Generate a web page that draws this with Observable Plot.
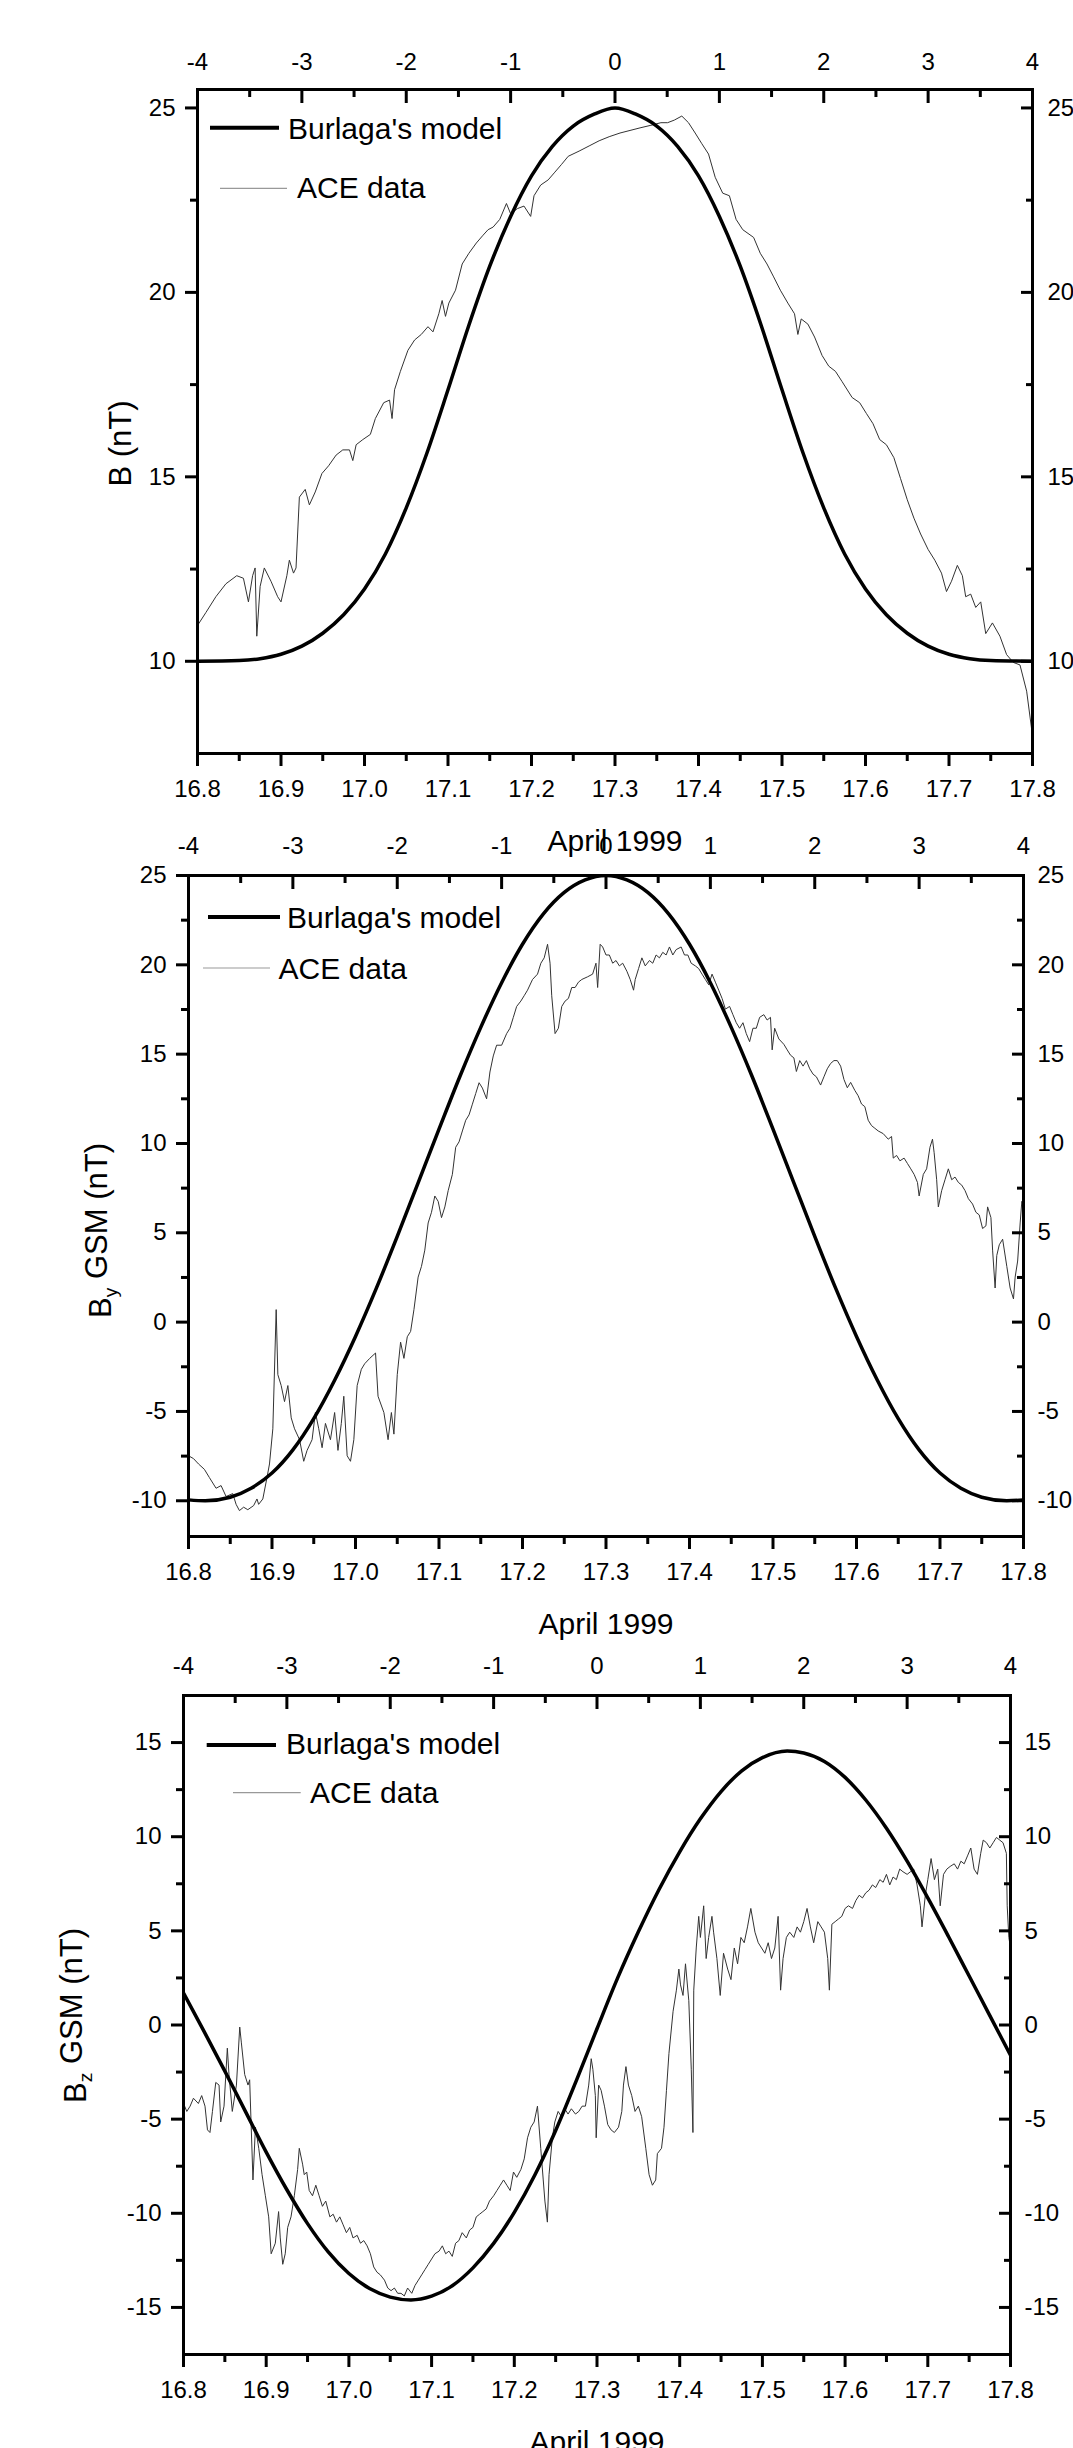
<!DOCTYPE html>
<html><head><meta charset="utf-8">
<script src="https://cdn.jsdelivr.net/npm/d3@7"></script>
<script src="https://cdn.jsdelivr.net/npm/@observablehq/plot@0.6"></script>
<style>
body{margin:0;background:#fff;}
#root{position:relative;width:1073px;height:2448px;overflow:hidden;background:#fff;}
</style></head><body><div id="root"></div>
<script>
// ---------- tick labels ----------
const xMajor = [16.8,16.9,17.0,17.1,17.2,17.3,17.4,17.5,17.6,17.7,17.8];
const xMinor = [16.85,16.95,17.05,17.15,17.25,17.35,17.45,17.55,17.65,17.75];
const topMajor = [-4,-3,-2,-1,0,1,2,3,4];
const topMinor = [-3.5,-2.5,-1.5,-0.5,0.5,1.5,2.5,3.5];
const legendLabels = ["Burlaga's model","ACE data"];
const xTitle = "April 1999";

// ---------- Burlaga's model ----------
const modelB = [[16.80,10.0],[16.85,10.02],[16.875,10.07],[16.90,10.19],[16.925,10.41],[16.95,10.76],[16.975,11.26],[17.00,11.96],[17.025,12.91],[17.05,14.16],[17.075,15.66],[17.10,17.36],[17.125,19.11],[17.15,20.71],[17.175,22.06],[17.20,23.16],[17.225,23.96],[17.25,24.51],[17.275,24.83],[17.30,25.0],[17.325,24.83],[17.35,24.51],[17.375,23.96],[17.40,23.16],[17.425,22.06],[17.45,20.71],[17.475,19.11],[17.50,17.36],[17.525,15.66],[17.55,14.16],[17.575,12.91],[17.60,11.96],[17.625,11.26],[17.65,10.76],[17.675,10.41],[17.70,10.19],[17.725,10.07],[17.75,10.02],[17.80,10.0]];
const modelBy = [[16.80,-9.95],[16.82,-10],[16.85,-9.8],[16.875,-9.3],[16.90,-8.45],[16.925,-7.15],[16.95,-5.4],[16.975,-3.25],[17.00,-0.8],[17.025,1.9],[17.05,4.8],[17.075,7.8],[17.10,10.8],[17.125,13.75],[17.15,16.5],[17.175,19.0],[17.20,21.15],[17.225,22.85],[17.25,24.05],[17.275,24.75],[17.30,25.0],[17.325,24.75],[17.35,24.05],[17.375,22.85],[17.40,21.15],[17.425,19.0],[17.45,16.5],[17.475,13.75],[17.50,10.8],[17.525,7.8],[17.55,4.8],[17.575,1.9],[17.60,-0.8],[17.625,-3.25],[17.65,-5.4],[17.675,-7.15],[17.70,-8.45],[17.725,-9.3],[17.75,-9.8],[17.78,-10],[17.80,-9.95]];
const modelBz = [[16.800,1.7],[16.825,-0.35],[16.850,-2.45],[16.875,-4.6],[16.900,-6.75],[16.925,-8.75],[16.950,-10.55],[16.975,-12.05],[17.000,-13.2],[17.025,-14.0],[17.050,-14.45],[17.075,-14.6],[17.100,-14.4],[17.125,-13.85],[17.150,-12.9],[17.175,-11.6],[17.200,-9.95],[17.225,-7.95],[17.250,-5.6],[17.275,-2.95],[17.300,-0.2],[17.325,2.5],[17.350,4.95],[17.375,7.2],[17.400,9.2],[17.425,10.95],[17.450,12.4],[17.475,13.5],[17.500,14.2],[17.530,14.55],[17.550,14.45],[17.575,14.0],[17.600,13.15],[17.625,11.95],[17.650,10.45],[17.675,8.7],[17.700,6.75],[17.725,4.7],[17.750,2.6],[17.775,0.5],[17.800,-1.6]];

// ---------- ACE data ----------
const aceB = [[16.800,10.97],[16.810,11.32],[16.822,11.75],[16.834,12.10],[16.847,12.32],[16.855,12.25],[16.861,11.61],[16.866,12.32],[16.869,12.53],[16.871,10.68],[16.875,12.03],[16.880,12.53],[16.888,12.17],[16.896,11.75],[16.900,11.61],[16.907,12.32],[16.910,12.74],[16.915,12.39],[16.918,12.53],[16.922,14.45],[16.929,14.66],[16.934,14.24],[16.941,14.59],[16.949,15.09],[16.957,15.30],[16.966,15.59],[16.974,15.73],[16.982,15.73],[16.986,15.44],[16.990,15.87],[16.998,16.01],[17.007,16.15],[17.013,16.58],[17.023,17.01],[17.030,17.08],[17.033,16.58],[17.036,17.36],[17.043,17.86],[17.052,18.43],[17.060,18.71],[17.068,18.86],[17.076,19.07],[17.082,18.93],[17.089,19.42],[17.093,19.78],[17.097,19.35],[17.101,19.71],[17.109,20.06],[17.117,20.77],[17.125,21.06],[17.134,21.34],[17.142,21.55],[17.148,21.70],[17.154,21.77],[17.162,21.98],[17.170,22.41],[17.175,22.13],[17.183,22.27],[17.191,22.34],[17.199,22.06],[17.203,22.62],[17.211,22.91],[17.220,23.05],[17.228,23.26],[17.236,23.47],[17.244,23.69],[17.257,23.83],[17.269,23.97],[17.281,24.11],[17.293,24.22],[17.306,24.32],[17.318,24.39],[17.330,24.46],[17.343,24.53],[17.355,24.60],[17.363,24.60],[17.371,24.67],[17.380,24.78],[17.388,24.60],[17.396,24.32],[17.404,24.03],[17.412,23.75],[17.420,23.12],[17.429,22.69],[17.437,22.62],[17.445,21.98],[17.453,21.70],[17.466,21.49],[17.474,21.06],[17.482,20.77],[17.490,20.42],[17.498,20.06],[17.507,19.71],[17.515,19.42],[17.519,18.86],[17.523,19.28],[17.531,19.14],[17.539,18.79],[17.548,18.29],[17.556,18.00],[17.564,17.86],[17.572,17.58],[17.584,17.15],[17.593,17.01],[17.601,16.72],[17.609,16.44],[17.617,16.01],[17.625,15.87],[17.634,15.52],[17.642,14.95],[17.650,14.38],[17.658,13.88],[17.666,13.45],[17.675,13.03],[17.683,12.74],[17.691,12.39],[17.697,11.89],[17.703,12.17],[17.710,12.60],[17.716,12.32],[17.720,11.75],[17.726,11.82],[17.732,11.46],[17.738,11.61],[17.744,10.75],[17.752,11.04],[17.761,10.68],[17.769,10.18],[17.777,9.97],[17.785,9.90],[17.793,9.19],[17.800,7.98]];
const aceBy = [[16.800,-7.48],[16.806,-7.64],[16.812,-7.94],[16.819,-8.24],[16.825,-8.70],[16.833,-9.30],[16.839,-9.15],[16.845,-9.76],[16.853,-9.60],[16.857,-10.20],[16.861,-10.55],[16.866,-10.36],[16.871,-10.50],[16.878,-10.27],[16.882,-9.90],[16.884,-10.20],[16.889,-9.90],[16.894,-8.70],[16.897,-7.94],[16.901,-5.97],[16.905,0.70],[16.907,-2.94],[16.911,-3.55],[16.915,-4.45],[16.919,-3.55],[16.923,-5.36],[16.927,-5.97],[16.933,-6.58],[16.938,-7.79],[16.942,-7.18],[16.948,-6.58],[16.952,-5.06],[16.956,-5.97],[16.960,-7.03],[16.964,-5.67],[16.970,-6.58],[16.975,-5.06],[16.979,-7.18],[16.983,-5.67],[16.986,-4.15],[16.990,-7.48],[16.994,-7.79],[16.998,-6.58],[17.002,-3.55],[17.007,-2.64],[17.011,-2.33],[17.017,-2.03],[17.024,-1.73],[17.027,-4.15],[17.034,-5.06],[17.039,-6.58],[17.043,-5.06],[17.046,-6.27],[17.050,-2.94],[17.054,-1.12],[17.058,-2.03],[17.062,-0.82],[17.066,-0.52],[17.070,0.70],[17.075,2.52],[17.079,3.12],[17.083,4.03],[17.087,5.55],[17.091,6.15],[17.095,7.06],[17.099,6.76],[17.103,5.85],[17.107,6.45],[17.111,7.36],[17.116,8.27],[17.120,9.79],[17.124,10.09],[17.128,10.70],[17.132,11.30],[17.136,11.60],[17.140,12.20],[17.144,12.80],[17.148,13.40],[17.152,13.10],[17.157,12.50],[17.161,14.00],[17.165,14.90],[17.169,15.50],[17.175,15.50],[17.181,16.15],[17.185,16.45],[17.189,17.06],[17.193,17.67],[17.198,17.97],[17.202,18.27],[17.206,18.58],[17.212,19.18],[17.218,19.48],[17.222,20.09],[17.226,20.39],[17.230,21.15],[17.233,20.09],[17.235,18.27],[17.239,16.15],[17.243,16.45],[17.247,17.67],[17.251,17.97],[17.255,18.12],[17.259,18.73],[17.263,18.73],[17.267,19.03],[17.271,19.18],[17.278,19.33],[17.284,19.48],[17.288,20.09],[17.290,18.73],[17.293,21.15],[17.296,21.00],[17.300,20.55],[17.304,20.55],[17.308,20.09],[17.312,20.24],[17.316,19.94],[17.320,20.09],[17.325,19.64],[17.329,19.18],[17.333,18.58],[17.335,19.18],[17.339,19.79],[17.343,20.39],[17.347,19.94],[17.352,20.24],[17.356,20.09],[17.360,20.55],[17.364,20.39],[17.368,20.70],[17.372,20.55],[17.376,21.00],[17.380,20.55],[17.384,20.85],[17.390,21.00],[17.394,20.55],[17.398,20.55],[17.402,20.09],[17.407,19.94],[17.411,19.79],[17.415,19.48],[17.419,19.18],[17.423,18.88],[17.427,19.48],[17.431,19.03],[17.435,18.58],[17.439,18.12],[17.443,17.52],[17.448,17.67],[17.452,17.21],[17.456,16.76],[17.460,16.45],[17.464,16.76],[17.468,16.15],[17.472,15.70],[17.476,16.45],[17.480,16.45],[17.484,17.06],[17.489,17.21],[17.493,16.91],[17.497,17.06],[17.499,15.24],[17.502,16.45],[17.507,15.85],[17.513,15.55],[17.517,15.24],[17.521,14.94],[17.525,14.79],[17.528,14.03],[17.532,14.64],[17.536,14.33],[17.540,14.64],[17.544,14.18],[17.548,13.88],[17.552,13.73],[17.557,13.27],[17.561,13.73],[17.565,14.18],[17.569,14.48],[17.573,14.64],[17.577,14.64],[17.581,14.33],[17.585,13.58],[17.589,13.12],[17.593,13.42],[17.598,12.97],[17.602,12.67],[17.606,12.21],[17.610,12.06],[17.614,11.30],[17.618,11.00],[17.622,10.85],[17.626,10.70],[17.632,10.55],[17.638,10.24],[17.642,10.39],[17.644,9.18],[17.648,9.33],[17.652,9.03],[17.657,9.18],[17.661,8.88],[17.665,8.58],[17.669,8.27],[17.673,7.82],[17.675,7.06],[17.680,8.27],[17.684,8.58],[17.688,9.79],[17.691,10.24],[17.693,9.48],[17.696,7.97],[17.698,6.45],[17.702,7.36],[17.706,7.97],[17.710,8.58],[17.714,7.97],[17.718,8.12],[17.722,7.82],[17.726,7.67],[17.730,7.36],[17.734,6.91],[17.739,6.61],[17.743,6.15],[17.747,6.00],[17.751,5.24],[17.755,5.39],[17.757,6.45],[17.761,5.85],[17.763,4.03],[17.766,1.91],[17.768,3.73],[17.771,4.33],[17.775,4.64],[17.780,3.12],[17.784,1.91],[17.788,1.30],[17.790,2.52],[17.793,3.42],[17.796,5.55],[17.798,6.76],[17.800,6.45]];
const aceBz = [[16.800,-4.17],[16.804,-4.59],[16.808,-4.31],[16.812,-3.89],[16.818,-4.17],[16.822,-3.75],[16.826,-4.31],[16.829,-5.57],[16.832,-5.71],[16.835,-4.59],[16.839,-3.05],[16.843,-3.19],[16.845,-5.15],[16.849,-4.31],[16.853,-1.23],[16.855,-2.63],[16.859,-4.59],[16.864,-3.19],[16.868,-0.11],[16.870,-0.95],[16.874,-2.63],[16.878,-3.19],[16.880,-2.91],[16.884,-8.23],[16.887,-5.43],[16.891,-6.55],[16.895,-7.95],[16.899,-9.07],[16.903,-10.19],[16.906,-12.15],[16.911,-11.59],[16.915,-9.91],[16.917,-11.31],[16.920,-12.71],[16.923,-12.15],[16.926,-10.75],[16.930,-10.19],[16.934,-9.07],[16.938,-7.67],[16.940,-6.55],[16.944,-7.39],[16.946,-7.95],[16.949,-7.81],[16.952,-8.79],[16.956,-9.07],[16.960,-8.51],[16.964,-9.07],[16.968,-9.63],[16.972,-9.35],[16.977,-10.19],[16.981,-10.05],[16.985,-10.47],[16.989,-10.19],[16.993,-10.61],[16.997,-11.03],[17.001,-10.75],[17.005,-11.31],[17.010,-11.17],[17.014,-11.59],[17.018,-11.45],[17.022,-11.73],[17.026,-12.15],[17.030,-12.85],[17.034,-13.13],[17.038,-13.27],[17.043,-13.55],[17.047,-13.97],[17.051,-14.11],[17.055,-13.97],[17.059,-14.25],[17.063,-14.25],[17.067,-14.39],[17.071,-13.97],[17.076,-14.25],[17.080,-13.83],[17.084,-13.55],[17.088,-13.27],[17.092,-12.99],[17.096,-12.71],[17.100,-12.43],[17.104,-12.15],[17.109,-12.01],[17.113,-11.73],[17.117,-12.15],[17.121,-12.01],[17.125,-12.29],[17.129,-11.59],[17.133,-11.45],[17.137,-11.03],[17.142,-11.31],[17.146,-10.89],[17.150,-10.75],[17.154,-10.19],[17.158,-10.05],[17.162,-9.91],[17.166,-9.77],[17.170,-9.35],[17.175,-9.07],[17.179,-8.79],[17.183,-8.51],[17.187,-8.23],[17.191,-8.51],[17.195,-8.79],[17.199,-7.81],[17.203,-8.09],[17.208,-7.67],[17.212,-7.11],[17.216,-5.99],[17.220,-5.43],[17.224,-5.15],[17.228,-4.31],[17.232,-6.55],[17.235,-8.23],[17.237,-9.35],[17.240,-10.47],[17.242,-7.95],[17.246,-5.99],[17.249,-5.15],[17.253,-4.59],[17.257,-4.87],[17.261,-4.45],[17.265,-4.73],[17.269,-4.45],[17.274,-4.73],[17.278,-4.59],[17.282,-4.31],[17.286,-4.31],[17.290,-3.19],[17.293,-1.79],[17.295,-2.35],[17.298,-3.75],[17.299,-5.99],[17.302,-3.19],[17.305,-3.47],[17.309,-4.31],[17.313,-5.29],[17.317,-5.57],[17.321,-5.71],[17.326,-5.43],[17.330,-4.59],[17.332,-3.19],[17.335,-2.21],[17.338,-3.19],[17.342,-3.75],[17.346,-4.59],[17.350,-4.31],[17.354,-4.87],[17.359,-6.55],[17.363,-7.95],[17.367,-8.51],[17.371,-8.23],[17.373,-6.83],[17.378,-6.55],[17.381,-5.43],[17.384,-3.47],[17.387,-1.51],[17.392,0.73],[17.396,1.85],[17.399,2.97],[17.401,2.13],[17.404,1.57],[17.407,3.25],[17.411,1.29],[17.414,-2.35],[17.416,-5.71],[17.417,1.85],[17.420,4.09],[17.423,5.77],[17.425,4.65],[17.429,6.33],[17.432,3.53],[17.435,4.65],[17.439,5.77],[17.441,4.93],[17.445,3.53],[17.449,1.57],[17.453,3.81],[17.458,2.97],[17.462,2.41],[17.466,4.09],[17.470,3.25],[17.474,4.65],[17.478,4.37],[17.482,5.21],[17.486,6.19],[17.491,4.93],[17.495,4.37],[17.499,4.09],[17.503,3.81],[17.507,4.37],[17.511,3.53],[17.515,4.09],[17.519,5.77],[17.522,1.85],[17.525,3.53],[17.529,4.65],[17.533,4.93],[17.538,4.65],[17.542,5.21],[17.546,4.93],[17.550,5.49],[17.554,6.19],[17.558,5.21],[17.562,4.37],[17.567,5.49],[17.571,5.21],[17.575,4.93],[17.579,3.53],[17.581,1.85],[17.584,5.35],[17.588,5.49],[17.592,5.63],[17.596,5.77],[17.600,6.19],[17.604,6.33],[17.609,6.19],[17.613,6.61],[17.617,6.89],[17.621,6.75],[17.625,7.02],[17.629,7.16],[17.633,7.44],[17.637,7.30],[17.642,7.72],[17.646,7.58],[17.650,8.00],[17.654,7.44],[17.658,7.86],[17.662,7.72],[17.666,8.28],[17.670,8.14],[17.675,8.00],[17.679,8.14],[17.683,8.28],[17.687,7.44],[17.691,6.33],[17.693,5.21],[17.697,6.89],[17.700,7.72],[17.704,8.84],[17.708,7.72],[17.712,8.28],[17.715,6.33],[17.719,8.00],[17.723,8.28],[17.727,8.42],[17.732,8.56],[17.736,8.28],[17.740,8.70],[17.744,8.56],[17.748,8.98],[17.752,9.40],[17.756,8.28],[17.760,8.00],[17.764,9.12],[17.767,9.82],[17.771,9.68],[17.775,9.40],[17.779,9.68],[17.783,9.96],[17.787,9.82],[17.791,9.68],[17.795,9.12],[17.796,6.33],[17.798,4.65],[17.800,4.09]];

// ---------- panel y ticks ----------
const yMajorB = [10,15,20,25], yMinorB = [12.5,17.5,22.5];
const yMajorBy = [-10,-5,0,5,10,15,20,25], yMinorBy = [-7.5,-2.5,2.5,7.5,12.5,17.5,22.5];
const yMajorBz = [-15,-10,-5,0,5,10,15], yMinorBz = [-12.5,-7.5,-2.5,2.5,7.5,12.5];

const FONT = "'Liberation Sans', Arial, Helvetica, sans-serif";
const root = document.getElementById("root");
const topPos = t => 17.3 + t / 8;

function panel(cfg) {
  const toObj = a => a.map(([t, v]) => ({t, v}));
  const common = {textStroke: "none", label: null, strokeWidth: 3, fontSize: 24, fill: "#000"};
  const blank = () => "";
  const svg = Plot.plot({
    width: 1073, height: cfg.height,
    marginLeft: cfg.ml, marginRight: cfg.mr, marginTop: cfg.mt, marginBottom: cfg.mb,
    x: {domain: [16.8, 17.8]},
    y: {domain: cfg.yDomain},
    style: {position: "absolute", left: "0px", top: cfg.top + "px", background: "transparent", overflow: "visible", fontFamily: FONT, color: "#000"},
    marks: [
      Plot.line(toObj(cfg.ace), {x: "t", y: "v", stroke: "#333", strokeWidth: 1, clip: true}),
      Plot.line(toObj(cfg.model), {x: "t", y: "v", stroke: "#000", strokeWidth: 3.5, curve: "monotone-x", clip: true}),
      Plot.frame({stroke: "#000", strokeWidth: 3}),
      // bottom axis (outward ticks)
      Plot.axisX({...common, anchor: "bottom", ticks: xMajor, tickSize: 13, tickFormat: blank}),
      Plot.axisX({...common, anchor: "bottom", ticks: xMinor, tickSize: 8, tickFormat: blank}),
      Plot.axisX({...common, anchor: "bottom", ticks: xMajor, tickSize: 0, tickPadding: 26, tickFormat: d => d.toFixed(1)}),
      // top axis (inward ticks)
      Plot.axisX({...common, anchor: "top", ticks: topMajor.map(topPos), tickSize: -13, tickFormat: blank}),
      Plot.axisX({...common, anchor: "top", ticks: topMinor.map(topPos), tickSize: -7, tickFormat: blank}),
      Plot.axisX({...common, anchor: "top", ticks: topMajor.map(topPos), tickSize: 0, tickPadding: cfg.topPad, tickFormat: d => String(Math.round((d - 17.3) * 8))}),
      // left axis (outward ticks)
      Plot.axisY({...common, anchor: "left", ticks: cfg.yMajor, tickSize: 12, tickFormat: blank}),
      Plot.axisY({...common, anchor: "left", ticks: cfg.yMinor, tickSize: 7, tickFormat: blank}),
      Plot.axisY({...common, anchor: "left", ticks: cfg.yMajor, tickSize: 0, tickPadding: 22, tickFormat: d => String(d)}),
      // right axis (inward ticks)
      Plot.axisY({...common, anchor: "right", ticks: cfg.yMajor, tickSize: -12, tickFormat: blank}),
      Plot.axisY({...common, anchor: "right", ticks: cfg.yMinor, tickSize: -7, tickFormat: blank}),
      Plot.axisY({...common, anchor: "right", ticks: cfg.yMajor, tickSize: 0, tickPadding: cfg.rightPad, tickFormat: d => String(d)}),
      // titles
      Plot.text([xTitle], {text: d => d, frameAnchor: "bottom", dy: 97, lineAnchor: "bottom", fontSize: 30, fill: "#000"}),
      Plot.text([cfg.title], {text: d => d, frameAnchor: "left", dx: cfg.titleDx, dy: cfg.titleDy, rotate: -90, lineAnchor: "bottom", textAnchor: "middle", fontSize: 31, fill: "#000"})
    ]
  });
  const s = d3.select(svg);
  // subscript in y title
  if (cfg.sub) {
    s.selectAll("text").each(function () {
      if (this.textContent === cfg.title) {
        const el = d3.select(this);
        el.text(null);
        el.append("tspan").text(cfg.title.slice(0, 1));
        el.append("tspan").attr("dy", "0.32em").attr("font-size", "0.62em").text(cfg.sub);
        el.append("tspan").attr("dy", "-0.32em").text(cfg.title.slice(1));
      }
    });
  }
  // legend
  const L = cfg.legend;
  const g = s.append("g").attr("font-family", FONT).attr("font-size", 30).attr("fill", "#000").attr("text-anchor", "start");
  g.append("line").attr("x1", L.l1[0]).attr("x2", L.l1[1]).attr("y1", L.l1[2]).attr("y2", L.l1[2]).attr("stroke", "#000").attr("stroke-width", 4);
  g.append("text").attr("x", L.t1[0]).attr("y", L.t1[1]).attr("text-anchor", "start").text(legendLabels[0]);
  g.append("line").attr("x1", L.l2[0]).attr("x2", L.l2[1]).attr("y1", L.l2[2]).attr("y2", L.l2[2]).attr("stroke", "#999").attr("stroke-width", 1.2);
  g.append("text").attr("x", L.t2[0]).attr("y", L.t2[1]).attr("text-anchor", "start").text(legendLabels[1]);
  root.appendChild(svg);
}

panel({top: 0, height: 880, ml: 197, mr: 41, mt: 89, mb: 127, yDomain: [7.5, 25.5],
  yMajor: yMajorB, yMinor: yMinorB, model: modelB, ace: aceB, title: "B (nT)",
  titleDx: -67, titleDy: 22, topPad: 20, rightPad: 15,
  legend: {l1: [210, 279, 127.7], t1: [288, 139], l2: [220, 287, 188.3], t2: [297, 198.3]}});

panel({top: 800, height: 850, ml: 188, mr: 50, mt: 75, mb: 114, yDomain: [-12, 25],
  yMajor: yMajorBy, yMinor: yMinorBy, model: modelBy, ace: aceBy, title: "B GSM (nT)", sub: "y",
  titleDx: -78, titleDy: 24.5, topPad: 22, rightPad: 14,
  legend: {l1: [208, 280, 117], t1: [287, 128], l2: [203, 270, 168], t2: [278.5, 179]}});

panel({top: 1640, height: 808, ml: 183, mr: 63, mt: 55, mb: 94, yDomain: [-17.5, 17.5],
  yMajor: yMajorBz, yMinor: yMinorBz, model: modelBz, ace: aceBz, title: "B GSM (nT)", sub: "z",
  titleDx: -98, titleDy: -9.5, topPad: 22, rightPad: 14,
  legend: {l1: [206.7, 276, 105], t1: [286, 114.3], l2: [233, 300.7, 152.7], t2: [310, 163]}});
</script></body></html>
